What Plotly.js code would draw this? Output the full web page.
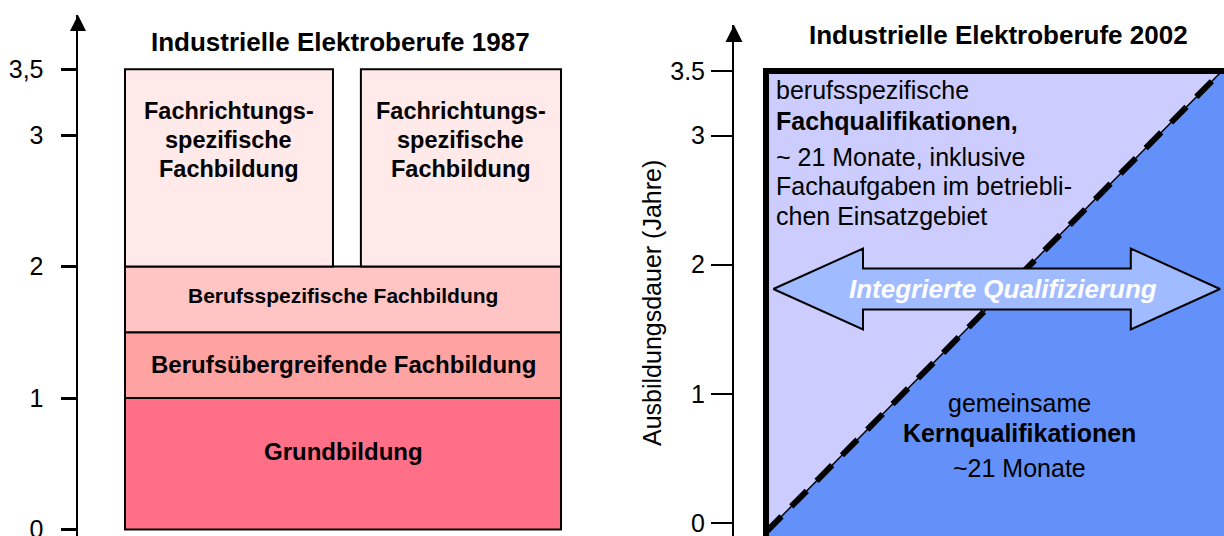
<!DOCTYPE html>
<html><head><meta charset="utf-8">
<script src="https://cdn.plot.ly/plotly-3.0.1.min.js"></script>
<style>html,body{margin:0;padding:0;background:#fff;overflow:hidden}#chart{width:1224px;height:536px}</style>
</head><body><div id="chart"></div>
<script>
// ---------- DATA ----------
// 1987: stacked training phases (years)
const layers1987 = ['Grundbildung', 'Berufsübergreifende Fachbildung', 'Berufsspezifische Fachbildung',
                    'Fachrichtungs-<br>spezifische<br>Fachbildung', 'Fachrichtungs-<br>spezifische<br>Fachbildung'];
const start1987 = [0, 1, 1.5, 2, 2];
const years1987 = [1, 0.5, 0.5, 1.5, 1.5];
// 2002: two qualification blocks (months)
const blocks2002 = ['berufsspezifische Fachqualifikationen', 'gemeinsame Kernqualifikationen'];
const months2002 = [21, 21];
// ticks
const tickVals = [0, 1, 2, 3, 3.5];
const tickText1987 = ['0', '1', '2', '3', '3,5'];
const tickText2002 = ['0', '1', '2', '3', '3.5'];

// ---------- STYLE / LAYOUT CONSTANTS ----------
const FONT = 'Liberation Sans, Arial, Helvetica, sans-serif';
const colors1987 = ['#FF7088', '#FFA2A2', '#FFC5C5', '#FFE9E9', '#FFE9E9'];
const spanL = [0, 0, 0, 0, 0.541];
const spanR = [1, 1, 1, 0.477, 1];
const labelY1987 = [0.595, 1.255, 1.78, 2.962, 2.962];
const labelSize1987 = [24, 24, 21, 23.5, 23.5];
const lineGap1987 = 0.217;
const W = 1224, H = 536;
const px = v => v / W, py = v => 1 - v / H;

// ---------- 1987 ----------
const traces = [];
traces.push({
  type: 'bar', xaxis: 'x', yaxis: 'y',
  x: spanL.map((l, i) => (l + spanR[i]) / 2),
  width: spanL.map((l, i) => spanR[i] - l),
  y: years1987, base: start1987,
  marker: {color: colors1987, line: {color: '#000', width: 2}},
  hoverinfo: 'skip', showlegend: false
});
// axis arrow heads
const yr1 = [-0.0494, 3.9125], xr1 = [-0.1078, 1.0894];
traces.push({type: 'scatter', mode: 'markers', xaxis: 'x', yaxis: 'y', x: [xr1[0]], y: [yr1[1]],
  marker: {symbol: 'arrow-up', size: 16, color: '#000'}, cliponaxis: false, hoverinfo: 'skip', showlegend: false});

// ---------- 2002 ----------
const total2002 = months2002.reduce((a, b) => a + b, 0) / 12; // 3.5 years
const yBot = -0.13, yDiag0 = -0.07, xBoxR = 1.02;
traces.push({type: 'scatter', mode: 'lines', xaxis: 'x2', yaxis: 'y2',
  x: [0, xBoxR, xBoxR, 0, 0], y: [yBot, yBot, total2002, total2002, yBot],
  fill: 'toself', fillcolor: '#CCCCFF', line: {width: 0}, hoverinfo: 'skip', showlegend: false});
traces.push({type: 'scatter', mode: 'lines', xaxis: 'x2', yaxis: 'y2',
  x: [0, 1, xBoxR, xBoxR, 0, 0], y: [yDiag0, total2002, total2002, yBot, yBot, yDiag0],
  fill: 'toself', fillcolor: '#6391F9', line: {width: 0}, hoverinfo: 'skip', showlegend: false});
traces.push({type: 'scatter', mode: 'lines', xaxis: 'x2', yaxis: 'y2', x: [0, 1], y: [yDiag0, total2002],
  line: {color: '#000', width: 6, dash: '22px,14px'}, hoverinfo: 'skip', showlegend: false});
traces.push({type: 'scatter', mode: 'lines', xaxis: 'x2', yaxis: 'y2', x: [0, 1], y: [yDiag0, total2002],
  line: {color: '#000', width: 1.5}, hoverinfo: 'skip', showlegend: false});
const aY = 1.812, aBody = 0.158, aHead = 0.313, aTipL = 0.016, aBaseL = 0.2127, aBaseR = 0.800, aTipR = 0.9956;
traces.push({type: 'scatter', mode: 'lines', xaxis: 'x2', yaxis: 'y2',
  x: [aTipL, aBaseL, aBaseL, aBaseR, aBaseR, aTipR, aBaseR, aBaseR, aBaseL, aBaseL, aTipL],
  y: [aY, aY + aHead, aY + aBody, aY + aBody, aY + aHead, aY, aY - aHead, aY - aBody, aY - aBody, aY - aHead, aY],
  fill: 'toself', fillcolor: '#A0BBFF', line: {color: '#000', width: 2}, hoverinfo: 'skip', showlegend: false});
const yr2 = [-0.1007, 3.856], xr2 = [-0.0702, 1.0044];
traces.push({type: 'scatter', mode: 'markers', xaxis: 'x2', yaxis: 'y2', x: [xr2[0]], y: [yr2[1]],
  marker: {symbol: 'arrow-up', size: 17, color: '#000'}, cliponaxis: false, hoverinfo: 'skip', showlegend: false});

// ---------- ANNOTATIONS ----------
const ann = [];
layers1987.forEach((t, i) => {
  const lines = t.split('<br>');
  lines.forEach((ln, k) => ann.push({
    xref: 'x', yref: 'y', x: (spanL[i] + spanR[i]) / 2,
    y: labelY1987[i] + ((lines.length - 1) / 2 - k) * lineGap1987, text: '<b>' + ln + '</b>',
    showarrow: false, xanchor: 'center', yanchor: 'middle', font: {family: FONT, size: labelSize1987[i], color: '#000'}
  }));
});
ann.push({xref: 'paper', yref: 'paper', x: px(340), y: py(42), text: '<b>Industrielle Elektroberufe 1987</b>',
  showarrow: false, xanchor: 'center', yanchor: 'middle', font: {family: FONT, size: 26, color: '#000'}});
ann.push({xref: 'paper', yref: 'paper', x: px(998), y: py(35), text: '<b>Industrielle Elektroberufe 2002</b>',
  showarrow: false, xanchor: 'center', yanchor: 'middle', font: {family: FONT, size: 26, color: '#000'}});
ann.push({xref: 'paper', yref: 'paper', x: px(652), y: py(303), text: 'Ausbildungsdauer (Jahre)', textangle: -90,
  showarrow: false, xanchor: 'center', yanchor: 'middle', font: {family: FONT, size: 25, color: '#000'}});
const topLines = [
  ['berufsspezifische', 3.353],
  ['<b>Fachqualifikationen,</b>', 3.113],
  ['~ ' + months2002[0] + ' Monate, inklusive', 2.834],
  ['Fachaufgaben im betriebli-', 2.610],
  ['chen Einsatzgebiet', 2.377]
];
topLines.forEach(l => ann.push({xref: 'x2', yref: 'y2', x: 0.018, y: l[1], text: l[0], showarrow: false,
  xanchor: 'left', yanchor: 'middle', font: {family: FONT, size: 25, color: '#000'}}));
const botLines = [
  ['gemeinsame', 0.929],
  ['<b>Kernqualifikationen</b>', 0.697],
  ['~' + months2002[1] + ' Monate', 0.426]
];
botLines.forEach(l => ann.push({xref: 'x2', yref: 'y2', x: 0.557, y: l[1], text: l[0], showarrow: false,
  xanchor: 'center', yanchor: 'middle', font: {family: FONT, size: 25, color: '#000'}}));
ann.push({xref: 'x2', yref: 'y2', x: 0.52, y: aY, text: '<b><i>Integrierte Qualifizierung</i></b>', showarrow: false,
  xanchor: 'center', yanchor: 'middle', font: {family: FONT, size: 26, color: '#FFFFFF'}});

// ---------- LAYOUT ----------
const layout = {
  width: W, height: H, margin: {l: 0, r: 0, t: 0, b: 0},
  paper_bgcolor: '#fff', plot_bgcolor: 'rgba(0,0,0,0)',
  barmode: 'overlay', showlegend: false, hovermode: false,
  font: {family: FONT, color: '#000'},
  xaxis: {domain: [px(78), px(600)], range: xr1, visible: false, fixedrange: true},
  yaxis: {domain: [0, (H - 15) / H], range: yr1, anchor: 'x', showline: true, linecolor: '#000', linewidth: 2.5,
    showgrid: false, zeroline: false, ticks: 'outside', ticklen: 15, tickwidth: 3, tickcolor: '#000',
    tickvals: tickVals, ticktext: tickText1987, ticklabelstandoff: 12, ticklabeloverflow: 'allow',
    tickfont: {family: FONT, size: 25, color: '#000'}, fixedrange: true},
  xaxis2: {domain: [px(734), 1], range: xr2, visible: false, anchor: 'y2', fixedrange: true},
  yaxis2: {domain: [0, (H - 25) / H], range: yr2, anchor: 'x2', showline: true, linecolor: '#000', linewidth: 2,
    showgrid: false, zeroline: false, ticks: 'outside', ticklen: 21, tickwidth: 2, tickcolor: '#000',
    tickvals: tickVals, ticktext: tickText2002, ticklabelstandoff: 1, ticklabeloverflow: 'allow',
    tickfont: {family: FONT, size: 25, color: '#000'}, fixedrange: true},
  shapes: [{type: 'rect', xref: 'x2', yref: 'y2', x0: 0, x1: xBoxR, y0: yBot, y1: total2002,
    line: {color: '#000', width: 6}, fillcolor: 'rgba(0,0,0,0)', layer: 'above'}],
  annotations: ann
};
Plotly.newPlot('chart', traces, layout, {staticPlot: true, displayModeBar: false});
</script></body></html>
